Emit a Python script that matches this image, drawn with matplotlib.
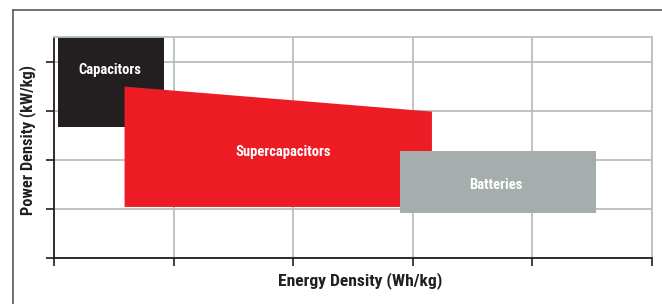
import matplotlib
matplotlib.use("Agg")
import matplotlib.pyplot as plt
from matplotlib.patches import Polygon, Rectangle
from matplotlib.lines import Line2D

# device regions on the Ragone-style chart (arbitrary units)
device_names = ["Capacitors", "Supercapacitors", "Batteries"]
cap_energy = [0.03, 0.92]
cap_power = [2.67, 4.5]
sup_energy = [0.59, 3.16]
sup_power_bottom = 1.04
sup_power_top = [3.49, 2.98]   # left edge, right edge
bat_energy = [2.89, 4.53]
bat_power = [0.92, 2.18]
x_ticks = [0, 1, 2, 3, 4, 5]
y_ticks = [0, 1, 2, 3, 4]

FONT = ["Roboto Condensed", "DejaVu Sans"]
DARK = "#231f20"
GRID = "#b8bfbe"

fig = plt.figure(figsize=(6.62, 3.04), dpi=100)
ax = fig.add_axes([54 / 662, 1 - 258 / 304, 598 / 662, 221 / 304])
ax.set_xlim(0, 5)
ax.set_ylim(0, 4.5)

ax.set_xticks(x_ticks)
ax.set_yticks(y_ticks)
ax.tick_params(direction="out", length=6, width=1.2, color=DARK,
               labelbottom=False, labelleft=False)
ax.grid(True, color=GRID, lw=1.3, zorder=0)
ax.set_axisbelow(True)
for side in ("left", "bottom"):
    ax.spines[side].set_color(DARK)
    ax.spines[side].set_linewidth(1.3)
for side in ("top", "right"):
    ax.spines[side].set_color(GRID)
    ax.spines[side].set_linewidth(1.3)

# capacitors
ax.add_patch(Rectangle((cap_energy[0], cap_power[0]),
                       cap_energy[1] - cap_energy[0],
                       cap_power[1] - cap_power[0],
                       fc=DARK, ec="none", zorder=2, clip_on=False))
# supercapacitors
ax.add_patch(Polygon([(sup_energy[0], sup_power_bottom),
                      (sup_energy[0], sup_power_top[0]),
                      (sup_energy[1], sup_power_top[1]),
                      (sup_energy[1], sup_power_bottom)],
                     closed=True, fc="#ed1c24", ec="none", zorder=3))
# batteries
ax.add_patch(Rectangle((bat_energy[0], bat_power[0]),
                       bat_energy[1] - bat_energy[0],
                       bat_power[1] - bat_power[0],
                       fc="#a5adad", ec="none", zorder=4))

label_pos = [(sum(cap_energy) / 2 - 0.01, 3.83),
             (1.915, 2.16),
             (sum(bat_energy) / 2 - 0.02, 1.49)]
for name, (x, y) in zip(device_names, label_pos):
    ax.text(x, y, name, color="white", fontsize=10.5, fontweight="bold",
            family=FONT, ha="center", va="center", zorder=5)

ax.set_xlabel("Energy Density (Wh/kg)", fontsize=12.6, fontweight="bold",
              family=FONT, color=DARK)
ax.set_ylabel("Power Density (kW/kg)", fontsize=11.8, fontweight="bold",
              family=FONT, color=DARK)
ax.xaxis.set_label_coords(0.512, -0.062)
ax.yaxis.set_label_coords(-0.03, 0.535)

# outer frame (left and top edges visible)
fig.add_artist(Line2D([13 / 662, 13 / 662], [0, 1 - 10 / 304],
                      transform=fig.transFigure, color="#58595b", lw=1.2))
fig.add_artist(Line2D([13 / 662, 1], [1 - 10 / 304, 1 - 10 / 304],
                      transform=fig.transFigure, color="#58595b", lw=1.2))

fig.savefig("out.png", dpi=100)
